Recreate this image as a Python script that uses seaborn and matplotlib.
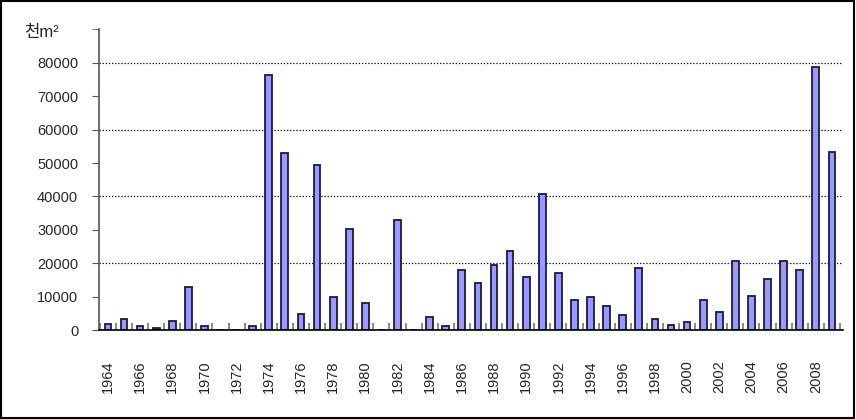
import matplotlib
matplotlib.use("Agg")
import matplotlib.pyplot as plt
import seaborn as sns
import pandas as pd
from matplotlib.patches import Rectangle
from matplotlib.ticker import FixedLocator

years = [str(y) for y in range(1964, 2010)]
values = [1900, 3200, 1300, 500, 2700, 12800, 1300, 0, 0, 1300,
          76500, 52900, 4900, 49500, 9800, 30200, 8000, 0, 32800, 0,
          4000, 1300, 18000, 14100, 19400, 23700, 15800, 40800, 17100, 8900,
          9800, 7100, 4600, 18500, 3200, 1400, 2300, 8900, 5300, 20600,
          10200, 15400, 20600, 18000, 78700, 53400]
tick_labels = [str(y) for y in range(1964, 2010, 2)]
unit_label = "천m²"
y_ticks = [0, 10000, 20000, 30000, 40000, 50000, 60000, 70000, 80000]
grid_values = [20000, 40000, 60000, 80000]

sns.set_style("white")
plt.rcParams['font.family'] = ['Liberation Sans', 'Noto Sans CJK KR', 'DejaVu Sans']

df = pd.DataFrame({"year": years, "value": values})

fig = plt.figure(figsize=(8.56, 4.19), dpi=100)
ax = fig.add_axes([0.1157, 0.2124, 0.985 - 0.1157, 0.9298 - 0.2124])

sns.barplot(data=df, x="year", y="value", order=years, color="#9999FF",
            saturation=1, width=0.42, edgecolor="#1a1a40", linewidth=1.3, ax=ax)

ax.set_ylim(0, 90000)
ax.set_xlim(-0.55, len(years) - 0.3)
for g in grid_values:
    ax.axhline(g, color="black", linestyle=(0, (1, 1.5)), linewidth=0.9, zorder=0)

ax.set_yticks(y_ticks)
ax.set_yticklabels([str(v) for v in y_ticks], fontsize=10.5)
ax.yaxis.set_minor_locator(FixedLocator([90000]))
ax.tick_params(axis='y', which='both', direction='out', length=5, color='#555555',
               left=True, pad=10)

pos = [years.index(t) for t in tick_labels]
ax.set_xticks(pos)
ax.set_xticklabels(tick_labels, rotation=90, fontsize=10.5)
ax.xaxis.set_minor_locator(FixedLocator([i + 0.5 for i in range(-1, len(years))]))
ax.tick_params(axis='x', which='major', length=0, pad=22)
ax.tick_params(axis='x', which='minor', direction='in', length=5, color='#777777',
               bottom=True, width=1.2)

ax.set_xlabel("")
ax.set_ylabel("")
for s in ["top", "right"]:
    ax.spines[s].set_visible(False)
ax.spines["left"].set_color("#555555")
ax.spines["left"].set_linewidth(1.2)
ax.spines["bottom"].set_color("black")
ax.spines["bottom"].set_linewidth(1.2)

fig.text(24 / 856, 1 - 32 / 419, unit_label, fontsize=12, va="center", ha="left")

fig.patches.append(Rectangle((0.001, 0.002), 0.997, 0.995, transform=fig.transFigure,
                             fill=False, edgecolor="black", linewidth=1.5))

fig.savefig("out.png", dpi=100)
